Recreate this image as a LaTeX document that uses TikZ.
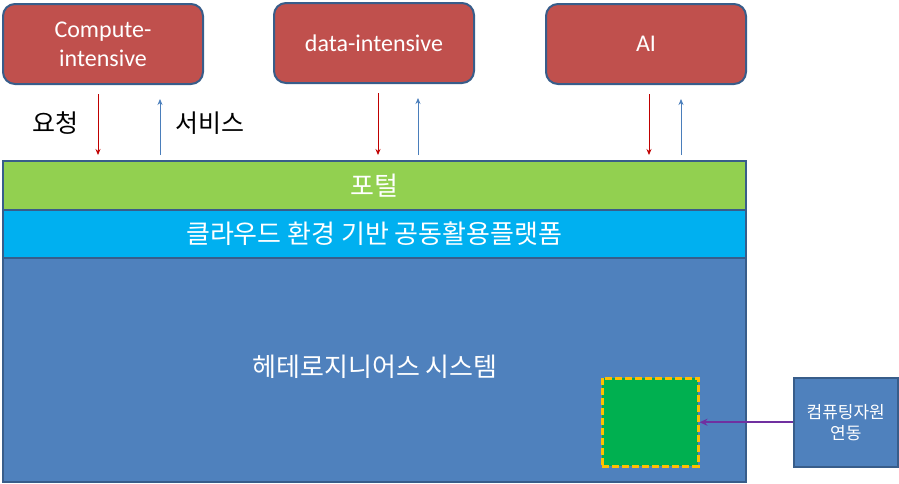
\documentclass[tikz,border=0pt]{standalone}
\usepackage{fontspec}
\setmainfont{Carlito}
\newfontfamily\kr{Noto Sans CJK KR}
\usetikzlibrary{arrows.meta,calc}
\definecolor{boxred}{HTML}{C0504D}
\definecolor{edgeblue}{HTML}{385D8A}
\definecolor{portalgreen}{HTML}{92D050}
\definecolor{cloudcyan}{HTML}{00B0F0}
\definecolor{sysblue}{HTML}{4F81BD}
\definecolor{resgreen}{HTML}{00B050}
\definecolor{dashgold}{HTML}{FFC000}
\definecolor{linkpurple}{HTML}{7030A0}
\definecolor{reqred}{HTML}{C00000}
\definecolor{svcblue}{HTML}{4A7EBB}

\begin{document}
\begin{tikzpicture}[x=1pt, y=-1pt, >=Stealth,
          app/.style={rectangle, rounded corners=12pt, draw=edgeblue, line width=2pt,
            fill=boxred, text=white, minimum width=200pt, minimum height=80pt,
            align=center, font=\fontsize{24}{29}\selectfont, anchor=north west},
          layer/.style={rectangle, draw=edgeblue, line width=1.5pt, text=white,
            minimum width=743pt, anchor=north west, font=\kr\fontsize{26}{30}\selectfont},
          req/.style={reqred, line width=0.8pt, shorten <=9pt, shorten >=5pt,
            -{Stealth[length=6pt,width=5pt]}},
          svc/.style={svcblue, line width=0.8pt, shorten <=5pt, shorten >=14pt,
            -{Stealth[length=6pt,width=5pt]}},
          tag/.style={font=\kr\fontsize{25}{30}\selectfont}]

          \useasboundingbox (0,0) rectangle (899,483);

          % application boxes
          \node[app] (comp) at (2,3) {Compute-\\intensive};
          \node[app] (data) at (273,2) {data-intensive};
          \node[app] (ai) at (545,3) {AI};

          % layers
          \node[layer, fill=sysblue, minimum height=224pt] (sys) at (2,257) {};
          \node[font=\kr\fontsize{26}{30}\selectfont, text=white] (systxt) at (375,367) {헤테로지니어스 시스템};
          \node[layer, fill=cloudcyan, minimum height=48pt] (cloud) at (2,209) {클라우드 환경 기반 공동활용플랫폼};
          \node[layer, fill=portalgreen, minimum height=49pt] (portal) at (2,160) {포털};

          % computing resource
          \node[rectangle, fill=resgreen, draw=dashgold, dash pattern=on 7pt off 3pt, line width=2.5pt,
            minimum width=96pt, minimum height=88pt, anchor=north west] (res) at (601,377) {};
          \node[rectangle, fill=sysblue, draw=edgeblue, line width=1.5pt, text=white,
            minimum width=104pt, minimum height=89pt, anchor=north west, align=center,
            font=\kr\fontsize{17}{21}\selectfont] (link) at (793,377) {컴퓨팅자원\\연동};
          \draw[-{Stealth[length=8pt,width=7pt]}, linkpurple, line width=2pt] (link.west) -- (res.east);

          % request / service arrows
          \foreach \appname/\xr/\xs in {comp/98/160, data/378/418, ai/649/681} {
            \coordinate (r) at (\xr,0);
            \coordinate (s) at (\xs,0);
            \draw[req] (r |- \appname.south) -- (r |- portal.north);
            \draw[svc] (s |- portal.north) -- (s |- \appname.south);
          }

          \node[tag] (ask) at (55,123) {요청};
          \node[tag] (serve) at (210,123) {서비스};
        \end{tikzpicture}
\end{document}
